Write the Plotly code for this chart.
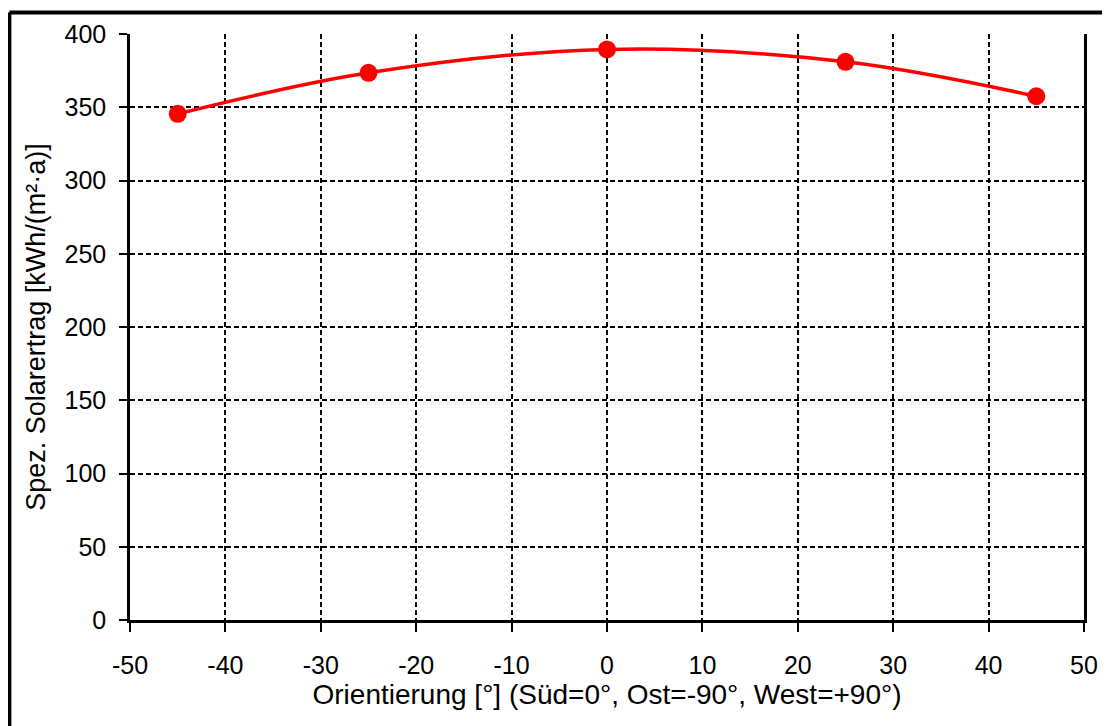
import plotly.graph_objects as go

orientation = [-45, -25, 0, 25, 45]
ertrag = [345.5, 373.5, 389.5, 381, 357.5]

x_ticks = list(range(-50, 51, 10))
y_ticks = list(range(0, 401, 50))

FONT = "Liberation Sans, Arial, sans-serif"

# figure is placed with the page's 8px body margin
W, H = 1102, 718
L, T = 122, 25
PW, PH = 957, 587

fig = go.Figure()
fig.add_trace(go.Scatter(
    x=orientation, y=ertrag, mode="lines+markers",
    line=dict(color="#ff0000", width=3.5, shape="spline", smoothing=1),
    marker=dict(color="#ff0000", size=18),
    showlegend=False, cliponaxis=False,
))

fig.update_layout(
    width=W, height=H,
    margin=dict(l=L, r=W - L - PW, t=T, b=H - T - PH, pad=0),
    paper_bgcolor="white", plot_bgcolor="white",
    font=dict(family=FONT, size=25, color="black"),
    xaxis=dict(
        range=[-50, 50], tickvals=x_ticks, ticktext=[str(v) for v in x_ticks],
        showgrid=True, gridcolor="black", gridwidth=1.5, griddash="5px,3px",
        showline=True, linecolor="black", linewidth=2.5,
        ticks="outside", ticklen=9, tickwidth=1.5, tickcolor="black",
        ticklabelstandoff=12, zeroline=False,
        title=dict(text="Orientierung [°] (Süd=0°, Ost=-90°, West=+90°)",
                   font=dict(size=28), standoff=5),
    ),
    yaxis=dict(
        range=[0, 400], tickvals=y_ticks, ticktext=[str(v) for v in y_ticks],
        showgrid=True, gridcolor="black", gridwidth=1.5, griddash="5px,3px",
        showline=True, linecolor="black", linewidth=2.5, mirror=True,
        ticks="outside", ticklen=8, tickwidth=1.5, tickcolor="black",
        ticklabelstandoff=8, zeroline=False,
        title=dict(text="Spez. Solarertrag [kWh/(m²·a)]",
                   font=dict(size=27), standoff=12),
    ),
)

# outer frame (cropped at right and bottom)
fx = (1 - L) / PW
fy = 1 + (T - 3.5) / PH
fig.add_shape(type="line", xref="paper", yref="paper",
              x0=fx, x1=1.1, y0=fy, y1=fy, line=dict(color="black", width=4))
fig.add_shape(type="line", xref="paper", yref="paper",
              x0=fx, x1=fx, y0=fy, y1=-0.3, line=dict(color="black", width=4))

fig.write_html("out.html")
